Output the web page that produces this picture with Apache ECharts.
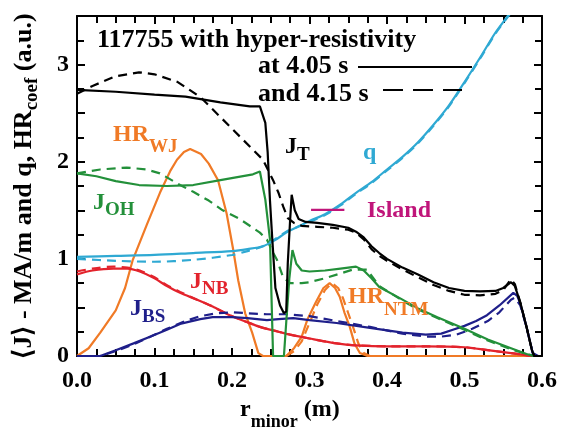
<!DOCTYPE html>
<html>
<head>
<meta charset="utf-8">
<script src="https://cdn.jsdelivr.net/npm/echarts@6/dist/echarts.min.js"></script>
<style>
  html, body { margin: 0; padding: 0; background: #fff; }
  #chart { width: 562px; height: 430px; }
</style>
</head>
<body>
<div id="chart"></div>
<script>
// profiles vs minor radius, solid = 4.05 s, dashed = 4.15 s
var jtSolid = [[0,2.74],[0.05,2.72],[0.1,2.69],[0.14,2.67],[0.185,2.61],[0.223,2.57],[0.236,2.57],[0.243,2.4],[0.246,2.1],[0.249,1.6],[0.252,1.2],[0.256,0.7],[0.262,0.52],[0.267,0.44],[0.27,0.46],[0.272,0.96],[0.275,1.4],[0.277,1.66],[0.281,1.5],[0.286,1.41],[0.295,1.38],[0.31,1.37],[0.33,1.35],[0.35,1.32],[0.36,1.28],[0.37,1.22],[0.38,1.13],[0.39,1.06],[0.4,1.0],[0.42,0.91],[0.44,0.84],[0.46,0.76],[0.48,0.7],[0.5,0.67],[0.52,0.665],[0.54,0.67],[0.55,0.7],[0.56,0.76],[0.565,0.72],[0.572,0.55],[0.58,0.3],[0.587,0.06],[0.59,0],[0.6,0]];
var jtDashed = [[0,2.7],[0.02,2.78],[0.05,2.88],[0.08,2.92],[0.1,2.9],[0.13,2.82],[0.16,2.66],[0.185,2.46],[0.21,2.26],[0.24,2.02],[0.253,1.81],[0.26,1.68],[0.266,1.54],[0.272,1.42],[0.28,1.37],[0.29,1.34],[0.31,1.33],[0.33,1.32],[0.35,1.3],[0.36,1.27],[0.37,1.2],[0.38,1.1],[0.39,1.03],[0.4,0.98],[0.42,0.89],[0.44,0.81],[0.46,0.73],[0.48,0.67],[0.5,0.63],[0.52,0.625],[0.54,0.64],[0.55,0.68],[0.56,0.79],[0.565,0.74],[0.572,0.55],[0.58,0.3],[0.587,0.06],[0.59,0],[0.6,0]];
var qSolid = [[0,1.02],[0.05,1.03],[0.1,1.04],[0.15,1.06],[0.2,1.08],[0.22,1.1],[0.24,1.13],[0.255,1.19],[0.27,1.27],[0.285,1.33],[0.3,1.39],[0.32,1.46],[0.34,1.56],[0.36,1.68],[0.38,1.79],[0.4,1.92],[0.42,2.05],[0.44,2.2],[0.46,2.38],[0.48,2.58],[0.5,2.82],[0.52,3.07],[0.54,3.33],[0.56,3.55],[0.58,3.85]];
var qDashed = [[0,1.0],[0.05,0.98],[0.1,0.97],[0.15,0.99],[0.2,1.04],[0.22,1.08],[0.24,1.13],[0.255,1.2],[0.27,1.28],[0.285,1.33],[0.3,1.38],[0.32,1.45],[0.34,1.55],[0.36,1.67],[0.38,1.78],[0.4,1.91],[0.42,2.04],[0.44,2.19],[0.46,2.37],[0.48,2.57],[0.5,2.81],[0.52,3.06],[0.54,3.32],[0.56,3.54],[0.58,3.84]];
var ohSolid = [[0,1.88],[0.025,1.85],[0.05,1.8],[0.08,1.76],[0.116,1.75],[0.15,1.76],[0.185,1.81],[0.227,1.87],[0.236,1.9],[0.243,1.61],[0.249,1.2],[0.251,0.6],[0.253,0],[0.267,0],[0.27,0.35],[0.274,0.8],[0.278,1.09],[0.283,0.95],[0.29,0.88],[0.3,0.87],[0.32,0.88],[0.34,0.9],[0.36,0.92],[0.37,0.88],[0.38,0.8],[0.39,0.71],[0.42,0.58],[0.44,0.49],[0.465,0.4],[0.5,0.28],[0.53,0.17],[0.56,0.08],[0.58,0.02],[0.59,0],[0.6,0]];
var ohDashed = [[0,1.88],[0.03,1.92],[0.064,1.94],[0.09,1.92],[0.107,1.88],[0.133,1.76],[0.15,1.69],[0.17,1.6],[0.188,1.5],[0.21,1.41],[0.236,1.27],[0.245,1.2],[0.252,1.08],[0.258,0.99],[0.266,0.81],[0.275,0.75],[0.29,0.75],[0.3,0.76],[0.32,0.8],[0.34,0.85],[0.356,0.89],[0.374,0.89],[0.39,0.72],[0.42,0.57],[0.44,0.48],[0.465,0.39],[0.5,0.27],[0.53,0.16],[0.56,0.07],[0.58,0.02],[0.59,0],[0.6,0]];
var nbSolid = [[0,0.84],[0.02,0.88],[0.047,0.9],[0.065,0.9],[0.081,0.87],[0.1,0.8],[0.116,0.72],[0.133,0.65],[0.155,0.58],[0.175,0.51],[0.197,0.42],[0.219,0.35],[0.236,0.3],[0.26,0.25],[0.275,0.22],[0.3,0.18],[0.335,0.13],[0.36,0.11],[0.4,0.1],[0.45,0.1],[0.5,0.09],[0.53,0.06],[0.55,0.04],[0.57,0.02],[0.59,0],[0.6,0]];
var nbDashed = [[0,0.87],[0.02,0.9],[0.047,0.92],[0.065,0.91],[0.081,0.88],[0.1,0.81],[0.116,0.73],[0.133,0.66],[0.155,0.58],[0.175,0.51],[0.197,0.42],[0.219,0.35],[0.236,0.3],[0.26,0.25],[0.275,0.22],[0.3,0.18],[0.335,0.13],[0.36,0.11],[0.4,0.1],[0.45,0.1],[0.5,0.09],[0.53,0.06],[0.55,0.04],[0.57,0.02],[0.59,0],[0.6,0]];
var bsSolid = [[0,0],[0.03,0],[0.05,0.06],[0.073,0.13],[0.095,0.2],[0.116,0.27],[0.133,0.33],[0.159,0.38],[0.175,0.4],[0.2,0.4],[0.22,0.39],[0.245,0.37],[0.26,0.38],[0.279,0.39],[0.3,0.37],[0.335,0.34],[0.378,0.29],[0.42,0.24],[0.45,0.22],[0.47,0.23],[0.485,0.27],[0.5,0.31],[0.515,0.36],[0.529,0.42],[0.545,0.52],[0.563,0.65],[0.568,0.62],[0.572,0.54],[0.58,0.3],[0.588,0.03],[0.595,0],[0.6,0]];
var bsDashed = [[0,0],[0.03,0],[0.05,0.05],[0.073,0.12],[0.095,0.2],[0.116,0.28],[0.14,0.36],[0.159,0.41],[0.18,0.44],[0.2,0.45],[0.22,0.44],[0.245,0.43],[0.27,0.43],[0.3,0.41],[0.335,0.36],[0.378,0.3],[0.42,0.23],[0.45,0.2],[0.47,0.2],[0.49,0.22],[0.51,0.28],[0.53,0.36],[0.545,0.45],[0.56,0.58],[0.565,0.6],[0.572,0.52],[0.58,0.3],[0.588,0.03],[0.595,0],[0.6,0]];
var hrSolid = [[0,0],[0.015,0.08],[0.03,0.24],[0.05,0.47],[0.062,0.7],[0.072,0.99],[0.09,1.35],[0.107,1.68],[0.12,1.9],[0.129,2.02],[0.138,2.1],[0.146,2.13],[0.16,2.08],[0.17,1.98],[0.182,1.81],[0.193,1.47],[0.201,1.12],[0.208,0.78],[0.217,0.44],[0.226,0.24],[0.234,0.03],[0.24,0],[0.27,0],[0.28,0.08],[0.29,0.2],[0.297,0.37],[0.308,0.55],[0.318,0.7],[0.326,0.75],[0.333,0.7],[0.339,0.61],[0.345,0.45],[0.352,0.3],[0.358,0.13],[0.365,0.03],[0.375,0],[0.6,0]];
var hrNtmDashed = [[0.27,0],[0.28,0.05],[0.29,0.15],[0.3,0.34],[0.31,0.53],[0.32,0.68],[0.329,0.75],[0.337,0.7],[0.343,0.6],[0.35,0.44],[0.357,0.28],[0.363,0.13],[0.37,0.03],[0.378,0]];
var islandSeg = [[0.302,1.505],[0.345,1.505]];

var xTicks = [0, 0.6, 0.1];   // min, max, step
var yTicks = [0, 3.5, 0.5];

var SERIF = 'Liberation Serif';
var C_Q = '#2FA9D3', C_OH = '#23903A', C_NB = '#E3232C', C_BS = '#1F1F8A', C_HR = '#F07A26', C_ISL = '#C0157A';

var chartDom = document.getElementById('chart');
var myChart = echarts.init(chartDom);

function curve(data, color, dashed, z, smooth) {
    return {
        type: 'line',
        data: data,
        showSymbol: false,
        smooth: smooth || false,
        silent: true,
        z: z || 2,
        lineStyle: { color: color, width: 2.2, type: dashed ? [9, 6] : 'solid' }
    };
}

// frame axes: ticks point into the plot on all four sides
function frameAxis(range, pos, split, labelOpt) {
    return {
        type: 'value',
        min: range[0], max: range[1], interval: range[2],
        position: pos,
        axisLine: { show: true, onZero: false, lineStyle: { color: '#000', width: 2 } },
        axisTick: { show: true, inside: true, length: 8, lineStyle: { color: '#000', width: 2 } },
        minorTick: { show: true, splitNumber: split, length: 7, lineStyle: { color: '#000', width: 2 } },
        splitLine: { show: false },
        axisLabel: labelOpt
    };
}

function label(text, rich, x, y, color, size) {
    return {
        type: 'text', x: x, y: y, z: 100,
        style: {
            text: text, rich: rich, fill: color,
            font: 'bold ' + (size || 24) + 'px ' + SERIF,
            textVerticalAlign: 'middle'
        }
    };
}

function sub(color, size, drop) {
    return {
        a: { fontFamily: SERIF, fontWeight: 'bold', fontSize: 24, color: color },
        s: { fontFamily: SERIF, fontWeight: 'bold', fontSize: size, color: color, padding: [drop * 2, 0, 0, 0] }
    };
}

var option = {
    animation: false,
    grid: { left: 77, right: 20, top: 16, bottom: 74 },
    xAxis: [
        frameAxis(xTicks, 'bottom', 4, {
            fontFamily: SERIF, fontWeight: 'bold', fontSize: 24, color: '#000', margin: 13,
            formatter: function (v) { return v.toFixed(1); }
        }),
        frameAxis(xTicks, 'top', 4, { show: false })
    ],
    yAxis: [
        frameAxis(yTicks, 'left', 2, {
            fontFamily: SERIF, fontWeight: 'bold', fontSize: 24, color: '#000', margin: 8,
            formatter: function (v) { return Math.abs(v - Math.round(v)) < 1e-6 && v < 3.4 ? String(Math.round(v)) : ''; }
        }),
        frameAxis(yTicks, 'right', 2, { show: false })
    ],
    series: [
        curve(hrSolid, C_HR, false, 2),
        curve(hrNtmDashed, C_HR, true, 2),
        curve(nbSolid, C_NB, false, 3, 0.3),
        curve(nbDashed, C_NB, true, 3, 0.3),
        curve(bsSolid, C_BS, false, 4),
        curve(bsDashed, C_BS, true, 4),
        curve(ohSolid, C_OH, false, 5),
        curve(ohDashed, C_OH, true, 5),
        curve(qSolid, C_Q, false, 6, 0.3),
        curve(qDashed, C_Q, true, 6, 0.3),
        curve(jtSolid, '#000', false, 7),
        curve(jtDashed, '#000', true, 7),
        curve(islandSeg, C_ISL, false, 8)
    ],
    graphic: [
        label('117755 with hyper-resistivity', null, 97, 40, '#000', 26),
        label('at 4.05 s', null, 258, 66, '#000', 26),
        label('and 4.15 s', null, 258, 94, '#000', 26),
        { type: 'line', z: 100, shape: { x1: 358, y1: 67, x2: 472, y2: 67 }, style: { stroke: '#000', lineWidth: 2.2 } },
        { type: 'line', z: 100, shape: { x1: 383, y1: 90, x2: 462, y2: 90 }, style: { stroke: '#000', lineWidth: 2.2, lineDash: [20, 10] } },
        label('{a|HR}{s|WJ}', sub(C_HR, 19, 12), 113, 135, C_HR),
        label('{a|J}{s|T}', sub('#000', 19, 8), 285, 147, '#000'),
        label('q', null, 363, 153, C_Q),
        label('{a|J}{s|OH}', sub(C_OH, 19, 7), 93, 203, C_OH),
        label('Island', null, 367, 211, C_ISL),
        label('{a|J}{s|NB}', sub(C_NB, 19, 7), 190, 282, C_NB),
        label('{a|J}{s|BS}', sub(C_BS, 19, 8), 130, 309, C_BS),
        label('{a|HR}{s|NTM}', sub(C_HR, 19, 13), 348, 297, C_HR),
        {
            type: 'text', x: 240, y: 410, z: 100,
            style: {
                text: '{a|r}{s|minor}{a| (m)}',
                rich: sub('#000', 18, 12),
                textVerticalAlign: 'middle'
            }
        },
        {
            type: 'text', x: 24, y: 186, z: 100, rotation: Math.PI / 2,
            style: {
                text: '{a|\u27E8J\u27E9 - MA/m and q, HR}{s|coef}{a| (a.u.)}',
                rich: {
                    a: { fontFamily: SERIF, fontWeight: 'bold', fontSize: 26, color: '#000' },
                    s: { fontFamily: SERIF, fontWeight: 'bold', fontSize: 19, color: '#000', padding: [16, 0, 0, 0] }
                },
                textAlign: 'center',
                textVerticalAlign: 'middle'
            }
        }
    ]
};

option && myChart.setOption(option);
</script>
</body>
</html>
